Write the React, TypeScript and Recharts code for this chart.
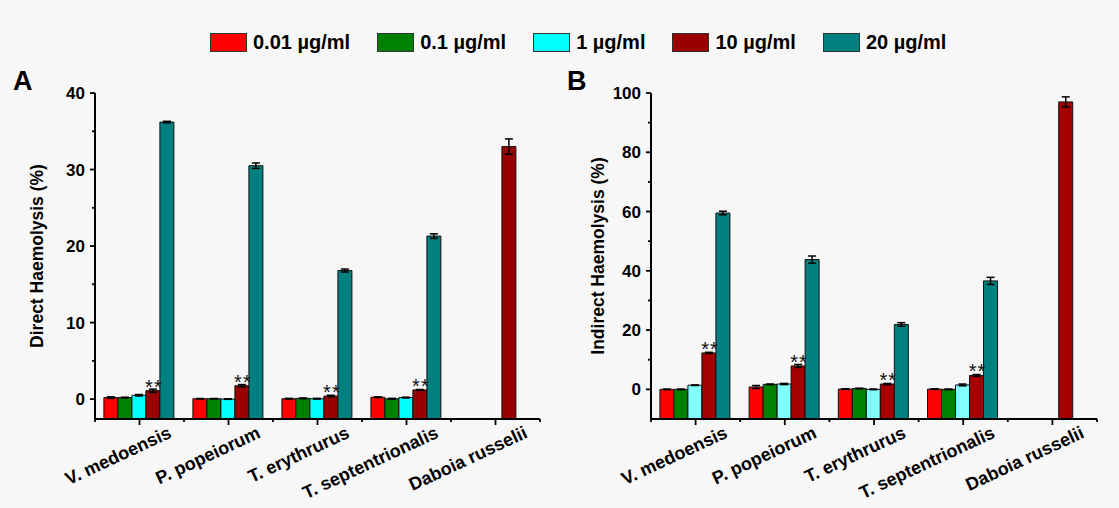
import { BarChart, Bar, XAxis, YAxis, ErrorBar, LabelList } from "recharts";

const species = ["V. medoensis", "P. popeiorum", "T. erythrurus", "T. septentrionalis", "Daboia russelii"];
const doses = ["0.01 \u00b5g/ml", "0.1 \u00b5g/ml", "1 \u00b5g/ml", "10 \u00b5g/ml", "20 \u00b5g/ml"];
const marks = ["**", "**", "**", "**", ""];

// panel A - direct haemolysis (%)
const direct001 = [0.2, 0.05, 0.05, 0.25, null];
const direct01 = [0.2, 0.05, 0.1, 0.05, null];
const direct1 = [0.5, 0.0, 0.05, 0.2, null];
const direct10 = [1.1, 1.75, 0.4, 1.2, 33.0];
const direct20 = [36.2, 30.5, 16.8, 21.3, null];
const directErr001 = [0.1, 0.03, 0.05, 0.05, null];
const directErr01 = [0.05, 0.03, 0.05, 0.05, null];
const directErr1 = [0.1, 0.03, 0.05, 0.05, null];
const directErr10 = [0.2, 0.15, 0.1, 0.05, 1.0];
const directErr20 = [0.1, 0.35, 0.2, 0.3, null];
const directMajor = [0, 10, 20, 30, 40];
const directMinor = [5, 15, 25, 35];
const directMin = -2.6;

// panel B - indirect haemolysis (%)
const indirect001 = [0.0, 0.8, 0.1, 0.1, null];
const indirect01 = [0.0, 1.7, 0.3, 0.0, null];
const indirect1 = [1.4, 1.8, 0.0, 1.5, null];
const indirect10 = [12.3, 7.9, 1.8, 4.7, 97.0];
const indirect20 = [59.5, 43.8, 21.9, 36.6, null];
const indirectErr001 = [0.1, 0.5, 0.1, 0.1, null];
const indirectErr01 = [0.1, 0.1, 0.1, 0.1, null];
const indirectErr1 = [0.1, 0.2, 0.1, 0.3, null];
const indirectErr10 = [0.2, 0.5, 0.2, 0.3, 1.7];
const indirectErr20 = [0.6, 1.2, 0.6, 1.2, null];
const indirectMajor = [0, 20, 40, 60, 80, 100];
const indirectMinor = [10, 30, 50, 70, 90];
const indirectMin = -10;

const colorsA = ["#ff0000", "#008000", "#00ffff", "#990000", "#008080"];
const colorsB = ["#ff0000", "#008000", "#80ffff", "#a50000", "#008080"];

const FONT = '"Liberation Sans", Arial, sans-serif';

// bars start at the bottom of the axis, so each value becomes a range [axisMin, value]
function buildRows(values: (number | null)[][], errors: (number | null)[][], base: number) {
  return species.map((name, i) => {
    const row: any = { name, mark: marks[i] };
    values.forEach((v, k) => {
      row["v" + k] = v[i] == null ? null : [base, v[i]];
      row["e" + k] = errors[k][i];
    });
    return row;
  });
}

const directRows = buildRows(
  [direct001, direct01, direct1, direct10, direct20],
  [directErr001, directErr01, directErr1, directErr10, directErr20],
  directMin
);
const indirectRows = buildRows(
  [indirect001, indirect01, indirect1, indirect10, indirect20],
  [indirectErr001, indirectErr01, indirectErr1, indirectErr10, indirectErr20],
  indirectMin
);

const makeYTick = (major: number[]) => (props: any) => {
  const { x, y, payload } = props;
  const isMajor = major.includes(payload.value);
  return (
    <g>
      <line x1={x - (isMajor ? 5 : 3)} x2={x} y1={y} y2={y} stroke="#000" strokeWidth={1.8} />
      {isMajor && (
        <text x={x - 10} y={y} dy="0.36em" textAnchor="end" fontSize={17} fontWeight="bold" fontFamily={FONT} fill="#000">
          {payload.value}
        </text>
      )}
    </g>
  );
};

const makeXTick = (plotWidth: number) => (props: any) => {
  const { x, y, payload, index, visibleTicksCount } = props;
  const band = plotWidth / (visibleTicksCount || species.length);
  const ax = x + 33;
  const ay = y + 18;
  return (
    <g>
      <line x1={x} x2={x} y1={y} y2={y + 6} stroke="#000" strokeWidth={1.8} />
      <line x1={x - band / 2} x2={x - band / 2} y1={y} y2={y + 3} stroke="#000" strokeWidth={1.8} />
      {index === species.length - 1 && (
        <line x1={x + band / 2} x2={x + band / 2} y1={y} y2={y + 3} stroke="#000" strokeWidth={1.8} />
      )}
      <text x={ax} y={ay} textAnchor="end" fontSize={18} fontWeight="bold" fontFamily={FONT} fill="#000" transform={`rotate(-25, ${ax}, ${ay})`}>
        {payload.value}
      </text>
    </g>
  );
};

const StarLabel = (p: any) => {
  if (!p.value) return null;
  return (
    <text x={Number(p.x) + Number(p.width) / 2 + 1} y={Number(p.y) + 3} textAnchor="middle" fontSize={20} fontFamily={FONT} fill="#111" letterSpacing={1}>
      {p.value}
    </text>
  );
};

function Panel(props: {
  rows: any[];
  colors: string[];
  min: number;
  max: number;
  major: number[];
  minor: number[];
  width: number;
  yWidth: number;
  right: number;
}) {
  const { rows, colors, min, max, major, minor, width, yWidth, right } = props;
  const plotWidth = width - yWidth - right;
  const ticks = [...major, ...minor].sort((a, b) => a - b);
  return (
    <BarChart
      width={width}
      height={508}
      data={rows}
      margin={{ top: 93, right, bottom: 59, left: 0 }}
      barGap={0}
      barCategoryGap="10%"
    >
      <XAxis
        dataKey="name"
        height={30}
        interval={0}
        tickSize={0}
        tickMargin={0}
        tickLine={false}
        axisLine={{ stroke: "#000", strokeWidth: 2 }}
        tick={makeXTick(plotWidth)}
      />
      <YAxis
        width={yWidth}
        type="number"
        domain={[min, max]}
        ticks={ticks}
        interval={0}
        tickSize={0}
        tickMargin={0}
        tickLine={false}
        axisLine={{ stroke: "#000", strokeWidth: 2 }}
        tick={makeYTick(major)}
      />
      {doses.map((d, k) => (
        <Bar key={d} dataKey={"v" + k} name={d} fill={colors[k]} stroke="#111" strokeWidth={1} isAnimationActive={false}>
          <ErrorBar dataKey={"e" + k} width={4} stroke="#000" strokeWidth={1.5} />
          {k === 3 && <LabelList dataKey="mark" content={StarLabel} />}
        </Bar>
      ))}
    </BarChart>
  );
}

export default function App() {
  const textBase: React.CSSProperties = {
    position: "absolute",
    fontFamily: FONT,
    fontWeight: "bold",
    color: "#000",
    whiteSpace: "nowrap",
  };
  return (
    <div style={{ position: "absolute", left: 0, top: 0, width: 1119, height: 508, background: "#f7f7f7", overflow: "hidden" }}>
      <div style={{ position: "absolute", left: 0, top: 0 }}>
        <Panel rows={directRows} colors={colorsA} min={directMin} max={40} major={directMajor} minor={directMinor} width={560} yWidth={95} right={20} />
      </div>
      <div style={{ position: "absolute", left: 560, top: 0 }}>
        <Panel rows={indirectRows} colors={colorsB} min={indirectMin} max={100} major={indirectMajor} minor={indirectMinor} width={559} yWidth={91} right={22} />
      </div>

      <div style={{ ...textBase, left: 13, top: 66, fontSize: 27 }}>A</div>
      <div style={{ ...textBase, left: 567, top: 66, fontSize: 27 }}>B</div>

      <div style={{ ...textBase, left: 37, top: 256, fontSize: 17.5, transform: "translate(-50%, -50%) rotate(-90deg)" }}>
        Direct Haemolysis (%)
      </div>
      <div style={{ ...textBase, left: 598, top: 256, fontSize: 17.5, transform: "translate(-50%, -50%) rotate(-90deg)" }}>
        Indirect Haemolysis (%)
      </div>

      <div style={{ position: "absolute", left: 210, top: 31, display: "flex", alignItems: "center", gap: 27, fontFamily: FONT, fontWeight: "bold", fontSize: 20 }}>
        {doses.map((d, k) => (
          <div key={d} style={{ display: "flex", alignItems: "center", gap: 6 }}>
            <span style={{ display: "inline-block", width: 35, height: 17, background: colorsA[k], border: "1px solid #333" }} />
            <span>{d}</span>
          </div>
        ))}
      </div>
    </div>
  );
}
